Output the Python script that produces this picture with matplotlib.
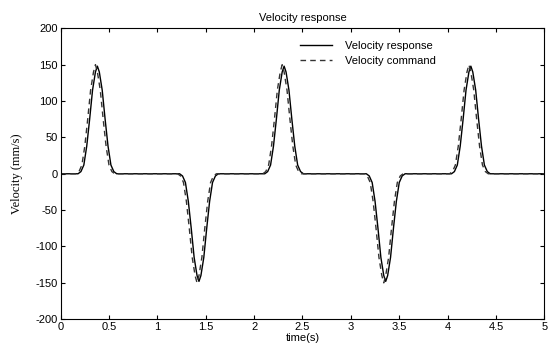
import matplotlib.pyplot as plt

# Velocity response (solid)
resp_t = [0.00, 0.18, 0.21, 0.24, 0.27, 0.30, 0.33, 0.36, 0.38, 0.40, 0.43, 0.46, 0.49, 0.52, 0.55, 0.58,
          1.23, 1.26, 1.29, 1.32, 1.35, 1.38, 1.41, 1.43, 1.45, 1.48, 1.51, 1.54, 1.57, 1.60, 1.63,
          2.11, 2.14, 2.17, 2.20, 2.23, 2.26, 2.29, 2.31, 2.33, 2.36, 2.39, 2.42, 2.45, 2.48, 2.51,
          3.16, 3.19, 3.22, 3.25, 3.28, 3.31, 3.34, 3.36, 3.38, 3.41, 3.44, 3.47, 3.50, 3.53, 3.56,
          4.04, 4.07, 4.10, 4.13, 4.16, 4.19, 4.22, 4.24, 4.26, 4.29, 4.32, 4.35, 4.38, 4.41, 4.44, 5.00]
resp_v = [0, 0, 3, 12, 38, 75, 115, 140, 148, 140, 115, 75, 38, 12, 3, 0,
          0, -3, -12, -38, -75, -115, -140, -148, -140, -115, -75, -38, -12, -3, 0,
          0, 3, 12, 38, 75, 115, 140, 148, 140, 115, 75, 38, 12, 3, 0,
          0, -3, -12, -38, -75, -115, -140, -148, -140, -115, -75, -38, -12, -3, 0,
          0, 3, 12, 38, 75, 115, 140, 148, 140, 115, 75, 38, 12, 3, 0, 0]

# Velocity command (dashed)
cmd_t = [0.00, 0.16, 0.19, 0.22, 0.25, 0.28, 0.31, 0.34, 0.36, 0.38, 0.41, 0.44, 0.47, 0.50, 0.53, 0.56,
         1.21, 1.24, 1.27, 1.30, 1.33, 1.36, 1.39, 1.41, 1.43, 1.46, 1.49, 1.52, 1.55, 1.58, 1.61,
         2.09, 2.12, 2.15, 2.18, 2.21, 2.24, 2.27, 2.29, 2.31, 2.34, 2.37, 2.40, 2.43, 2.46, 2.49,
         3.14, 3.17, 3.20, 3.23, 3.26, 3.29, 3.32, 3.34, 3.36, 3.39, 3.42, 3.45, 3.48, 3.51, 3.54,
         4.02, 4.05, 4.08, 4.11, 4.14, 4.17, 4.20, 4.22, 4.24, 4.27, 4.30, 4.33, 4.36, 4.39, 4.42, 5.00]
cmd_v = [0, 0, 3, 12, 38, 75, 115, 140, 150, 140, 115, 75, 38, 12, 3, 0,
         0, -3, -12, -38, -75, -115, -140, -150, -140, -115, -75, -38, -12, -3, 0,
         0, 3, 12, 38, 75, 115, 140, 150, 140, 115, 75, 38, 12, 3, 0,
         0, -3, -12, -38, -75, -115, -140, -150, -140, -115, -75, -38, -12, -3, 0,
         0, 3, 12, 38, 75, 115, 140, 150, 140, 115, 75, 38, 12, 3, 0, 0]

xticks = [0, 0.5, 1, 1.5, 2, 2.5, 3, 3.5, 4, 4.5, 5]
yticks = [-200, -150, -100, -50, 0, 50, 100, 150, 200]

plt.rcParams['font.family'] = ['Liberation Sans', 'DejaVu Sans']
plt.rcParams['axes.unicode_minus'] = False

fig = plt.figure(figsize=(5.51, 3.5), dpi=100)
ax = fig.add_axes([0.110, 0.088, 0.878, 0.831])

ax.plot(resp_t, resp_v, color='black', lw=1.0, label='Velocity response')
ax.plot(cmd_t, cmd_v, color='#333333', lw=1.0, dashes=(4, 3), label='Velocity command')

ax.set_xlim(0, 5)
ax.set_ylim(-200, 200)
ax.set_xticks(xticks)
ax.set_xticklabels([f'{t:g}' for t in xticks])
ax.set_yticks(yticks)
ax.set_yticklabels([str(v) for v in yticks])
ax.tick_params(direction='in', top=True, right=True, length=3, width=0.8,
               labelsize=8, pad=2)

ax.set_title('Velocity response', fontsize=8, pad=5)
ax.set_xlabel('time(s)', fontsize=8, labelpad=1)
ax.set_ylabel('Velocity (mm/s)', fontsize=9, family='Liberation Serif', labelpad=9)

ax.legend(loc='upper left', bbox_to_anchor=(0.475, 0.99), frameon=False, fontsize=8,
          handlelength=2.8, handletextpad=1.2, labelspacing=0.45)

fig.savefig('out.png', dpi=100)
